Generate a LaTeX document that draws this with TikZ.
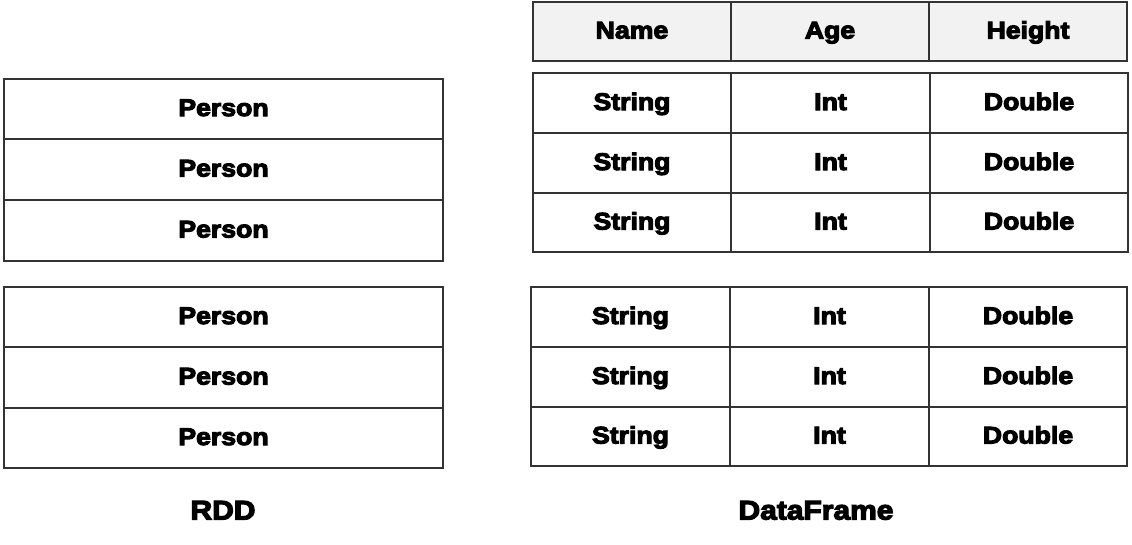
\documentclass[tikz,border=0pt]{standalone}
\usepackage{fontspec}
\newfontfamily\heavy[FakeBold=4.5,FakeStretch=1.11]{Liberation Sans Bold}
\begin{document}
\begin{tikzpicture}[x=1pt,y=-1pt,
  cell/.style={draw=black!80,line width=1.1pt,fill=white,rectangle,inner sep=0pt,
    text height=14pt,text depth=0pt,
    font=\heavy\fontsize{24}{26}\selectfont},
  head/.style={cell,fill=gray!10},
  caption/.style={font=\heavy\fontsize{27}{30}\selectfont,inner sep=0pt,
    text height=19pt,text depth=0pt}]
\useasboundingbox (0,0) rectangle (1132,544);
% RDD
\foreach \i/\ya/\yb in {1/79/139,2/139/200,3/200/261,4/287/347,5/347/408,6/408/468}{
  \node[cell,minimum width=439pt,minimum height={(\yb-\ya)*1pt}] (p\i) at (223.5,{(\ya+\yb)/2}) {Person};
}
% DataFrame header
\node[head,minimum width=198pt,minimum height=59pt] (hn) at (632,31.5) {Name};
\node[head,minimum width=198pt,minimum height=59pt] (ha) at (830,31.5) {Age};
\node[head,minimum width=198pt,minimum height=59pt] (hh) at (1028,31.5) {Height};
% group 1
\foreach \i/\ya/\yb in {1/73/133,2/133/193,3/193/252}{
  \node[cell,minimum width=198pt,minimum height={(\yb-\ya)*1pt}] (s\i) at (632,{(\ya+\yb)/2}) {String};
  \node[cell,minimum width=199pt,minimum height={(\yb-\ya)*1pt}] (n\i) at (830.5,{(\ya+\yb)/2}) {Int};
  \node[cell,minimum width=198pt,minimum height={(\yb-\ya)*1pt}] (d\i) at (1029,{(\ya+\yb)/2}) {Double};
}
% group 2
\foreach \i/\ya/\yb in {4/287/347,5/347/407,6/407/466}{
  \node[cell,minimum width=199pt,minimum height={(\yb-\ya)*1pt}] (s\i) at (630.5,{(\ya+\yb)/2}) {String};
  \node[cell,minimum width=199pt,minimum height={(\yb-\ya)*1pt}] (n\i) at (829.5,{(\ya+\yb)/2}) {Int};
  \node[cell,minimum width=198pt,minimum height={(\yb-\ya)*1pt}] (d\i) at (1028,{(\ya+\yb)/2}) {Double};
}
\node[caption] (rdd) at (223,510) {RDD};
\node[caption] (df) at (816,510) {DataFrame};
\end{tikzpicture}
\end{document}
